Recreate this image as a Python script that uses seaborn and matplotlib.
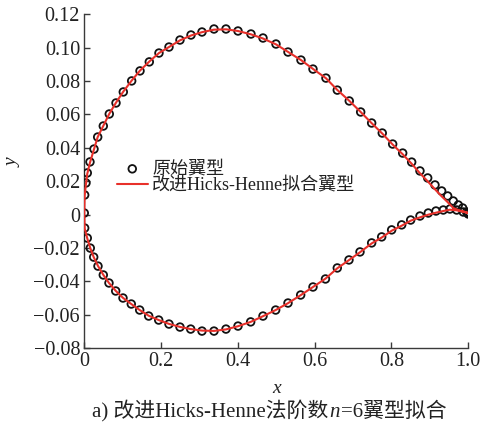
import numpy as np
import pandas as pd
import matplotlib
matplotlib.use("Agg")
import matplotlib.pyplot as plt
import seaborn as sns

# Original airfoil, upper surface (leading edge -> trailing edge)
upper_x = [0.000, 0.001, 0.0044, 0.0078, 0.0148, 0.0253, 0.0349, 0.0495, 0.0651, 0.0826,
           0.1016, 0.1234, 0.1451, 0.1693, 0.1945, 0.2206, 0.2492, 0.2779, 0.3065, 0.3378,
           0.3690, 0.4003, 0.4341, 0.4654, 0.4992, 0.5305, 0.5643, 0.5956, 0.6294, 0.6589,
           0.6901, 0.7198, 0.7484, 0.7760, 0.8031, 0.8292, 0.8526, 0.8742, 0.8943, 0.9133,
           0.9307, 0.9464, 0.9609, 0.9740, 0.9854, 0.9958, 1.000]
upper_y = [0.0010, 0.0118, 0.0190, 0.0250, 0.0316, 0.0393, 0.0465, 0.0531, 0.0603, 0.0669,
           0.0735, 0.0801, 0.0861, 0.0915, 0.0968, 0.1004, 0.1046, 0.1076, 0.1094, 0.1112,
           0.1112, 0.1100, 0.1082, 0.1058, 0.1022, 0.0974, 0.0926, 0.0872, 0.0818, 0.0746,
           0.0681, 0.0615, 0.0549, 0.0489, 0.0423, 0.0369, 0.0315, 0.0262, 0.0220, 0.0178,
           0.0142, 0.0112, 0.0082, 0.0058, 0.0040, 0.0016, 0.0004]

# Original airfoil, lower surface (leading edge -> trailing edge)
lower_x = [0.001, 0.0078, 0.0156, 0.0245, 0.0357, 0.0495, 0.0643, 0.0818, 0.1008, 0.1224,
           0.1443, 0.1677, 0.1938, 0.2206, 0.2492, 0.2771, 0.3065, 0.3378, 0.3690, 0.4003,
           0.4333, 0.4654, 0.4984, 0.5305, 0.5635, 0.5956, 0.6281, 0.6589, 0.6893, 0.7180,
           0.7484, 0.7745, 0.8005, 0.8266, 0.8500, 0.8742, 0.8958, 0.9159, 0.9349, 0.9523,
           0.9698, 0.9870, 1.000]
lower_y = [-0.0080, -0.0140, -0.0200, -0.0254, -0.0308, -0.0361, -0.0409, -0.0457, -0.0499, -0.0535,
           -0.0571, -0.0607, -0.0631, -0.0655, -0.0673, -0.0685, -0.0697, -0.0697, -0.0685, -0.0667,
           -0.0642, -0.0607, -0.0571, -0.0529, -0.0481, -0.0433, -0.0385, -0.0319, -0.0271, -0.0223,
           -0.0169, -0.0133, -0.0091, -0.0061, -0.0032, -0.0008, 0.0010, 0.0022, 0.0028, 0.0034,
           0.0028, 0.0016, 0.0010]

# Improved Hicks-Henne fit, upper surface (trailing edge region differs)
fit_upper_x = upper_x
fit_upper_y = [0.0010, 0.0115, 0.0185, 0.0245, 0.0312, 0.0392, 0.0465, 0.0532, 0.0604, 0.0671,
               0.0737, 0.0803, 0.0863, 0.0917, 0.0968, 0.1004, 0.1044, 0.1073, 0.1093, 0.1108,
               0.1110, 0.1100, 0.1080, 0.1055, 0.1020, 0.0975, 0.0926, 0.0873, 0.0817, 0.0747,
               0.0682, 0.0615, 0.0548, 0.0486, 0.0420, 0.0362, 0.0305, 0.0248, 0.0200, 0.0152,
               0.0110, 0.0075, 0.0040, 0.0028, 0.0020, 0.0013, 0.0010]

# Improved Hicks-Henne fit, lower surface
fit_lower_x = lower_x
fit_lower_y = [-0.0082, -0.0142, -0.0200, -0.0254, -0.0307, -0.0360, -0.0409, -0.0456, -0.0498, -0.0535,
               -0.0571, -0.0605, -0.0631, -0.0654, -0.0672, -0.0685, -0.0694, -0.0696, -0.0687, -0.0668,
               -0.0642, -0.0608, -0.0571, -0.0530, -0.0482, -0.0433, -0.0383, -0.0321, -0.0272, -0.0225,
               -0.0172, -0.0137, -0.0096, -0.0066, -0.0036, -0.0016, 0.0000, 0.0012, 0.0022, 0.0030,
               0.0026, 0.0018, 0.0010]

x_ticks = [0, 0.2, 0.4, 0.6, 0.8, 1.0]
x_tick_labels = ["0", "0.2", "0.4", "0.6", "0.8", "1.0"]
y_ticks = [-0.08, -0.06, -0.04, -0.02, 0, 0.02, 0.04, 0.06, 0.08, 0.10, 0.12]
y_tick_labels = ["\u22120.08", "\u22120.06", "\u22120.04", "\u22120.02", "0",
                 "0.02", "0.04", "0.06", "0.08", "0.10", "0.12"]

label_orig = "原始翼型"
label_fit = "改进Hicks-Henne拟合翼型"
caption_parts = ["a) 改进Hicks-Henne法阶数", "n", "=6翼型拟合"]

sns.set_style("ticks")
families = ["Liberation Serif", "Noto Sans CJK SC"]
plt.rcParams["font.family"] = families
plt.rcParams["axes.unicode_minus"] = True

orig = pd.DataFrame({"x": upper_x + lower_x, "y": upper_y + lower_y})
fit = pd.DataFrame({
    "x": list(fit_upper_x[::-1]) + list(fit_lower_x),
    "y": list(fit_upper_y[::-1]) + list(fit_lower_y),
})

fig = plt.figure(figsize=(4.83, 4.32), dpi=100)
ax = fig.add_axes([0.1745, 0.1938, 0.7950, 0.7731])

red = "#e8302a"
sns.scatterplot(data=orig, x="x", y="y", ax=ax, marker="o", s=30,
                facecolor="none", edgecolor="#111111", linewidth=1.3,
                label=label_orig, zorder=3)
sns.lineplot(data=fit, x="x", y="y", ax=ax, sort=False, estimator=None,
             color=red, linewidth=1.5, label=label_fit, zorder=4)

ax.set_xlim(0, 1.0)
ax.set_ylim(-0.08, 0.12)
ax.set_xticks(x_ticks)
ax.set_xticklabels(x_tick_labels)
ax.set_yticks(y_ticks)
ax.set_yticklabels(y_tick_labels)

for side in ["top", "right"]:
    ax.spines[side].set_visible(False)
for side in ["left", "bottom"]:
    ax.spines[side].set_color("#3a3a3a")
    ax.spines[side].set_linewidth(1.0)

ax.tick_params(direction="in", length=4.5, width=1.0, color="#3a3a3a",
               labelsize=14.5, labelcolor="#222222", pad=3)

ax.set_xlabel("x", fontsize=14, style="italic", color="#222222")
ax.set_ylabel("y", fontsize=14, style="italic", color="#222222")
ax.xaxis.set_label_coords(0.5, -0.095)
ax.yaxis.set_label_coords(-0.162, 0.555)

leg = ax.legend(loc="upper left", bbox_to_anchor=(0.085, 0.562), frameon=False,
                borderpad=0, borderaxespad=0, handlelength=1.7, handletextpad=0.25,
                labelspacing=0.0, prop={"family": families, "size": 13},
                labelcolor="#222222")

# Caption below the axes, with an italic "n"
cap_size = 15
t1 = fig.text(0.19, 0.035, caption_parts[0], fontsize=cap_size, color="#222222",
              family=families, ha="left", va="baseline")
t2 = fig.add_artist(matplotlib.text.Annotation(
    caption_parts[1], xy=(1, 0), xycoords=t1, xytext=(1, 0), textcoords="offset points",
    fontsize=cap_size, style="italic", color="#222222", family=families, va="bottom"))
t3 = fig.add_artist(matplotlib.text.Annotation(
    caption_parts[2], xy=(1, 0), xycoords=t2, xytext=(1, 0), textcoords="offset points",
    fontsize=cap_size, color="#222222", family=families, va="bottom"))

fig.savefig("out.png", dpi=100, facecolor="white")
